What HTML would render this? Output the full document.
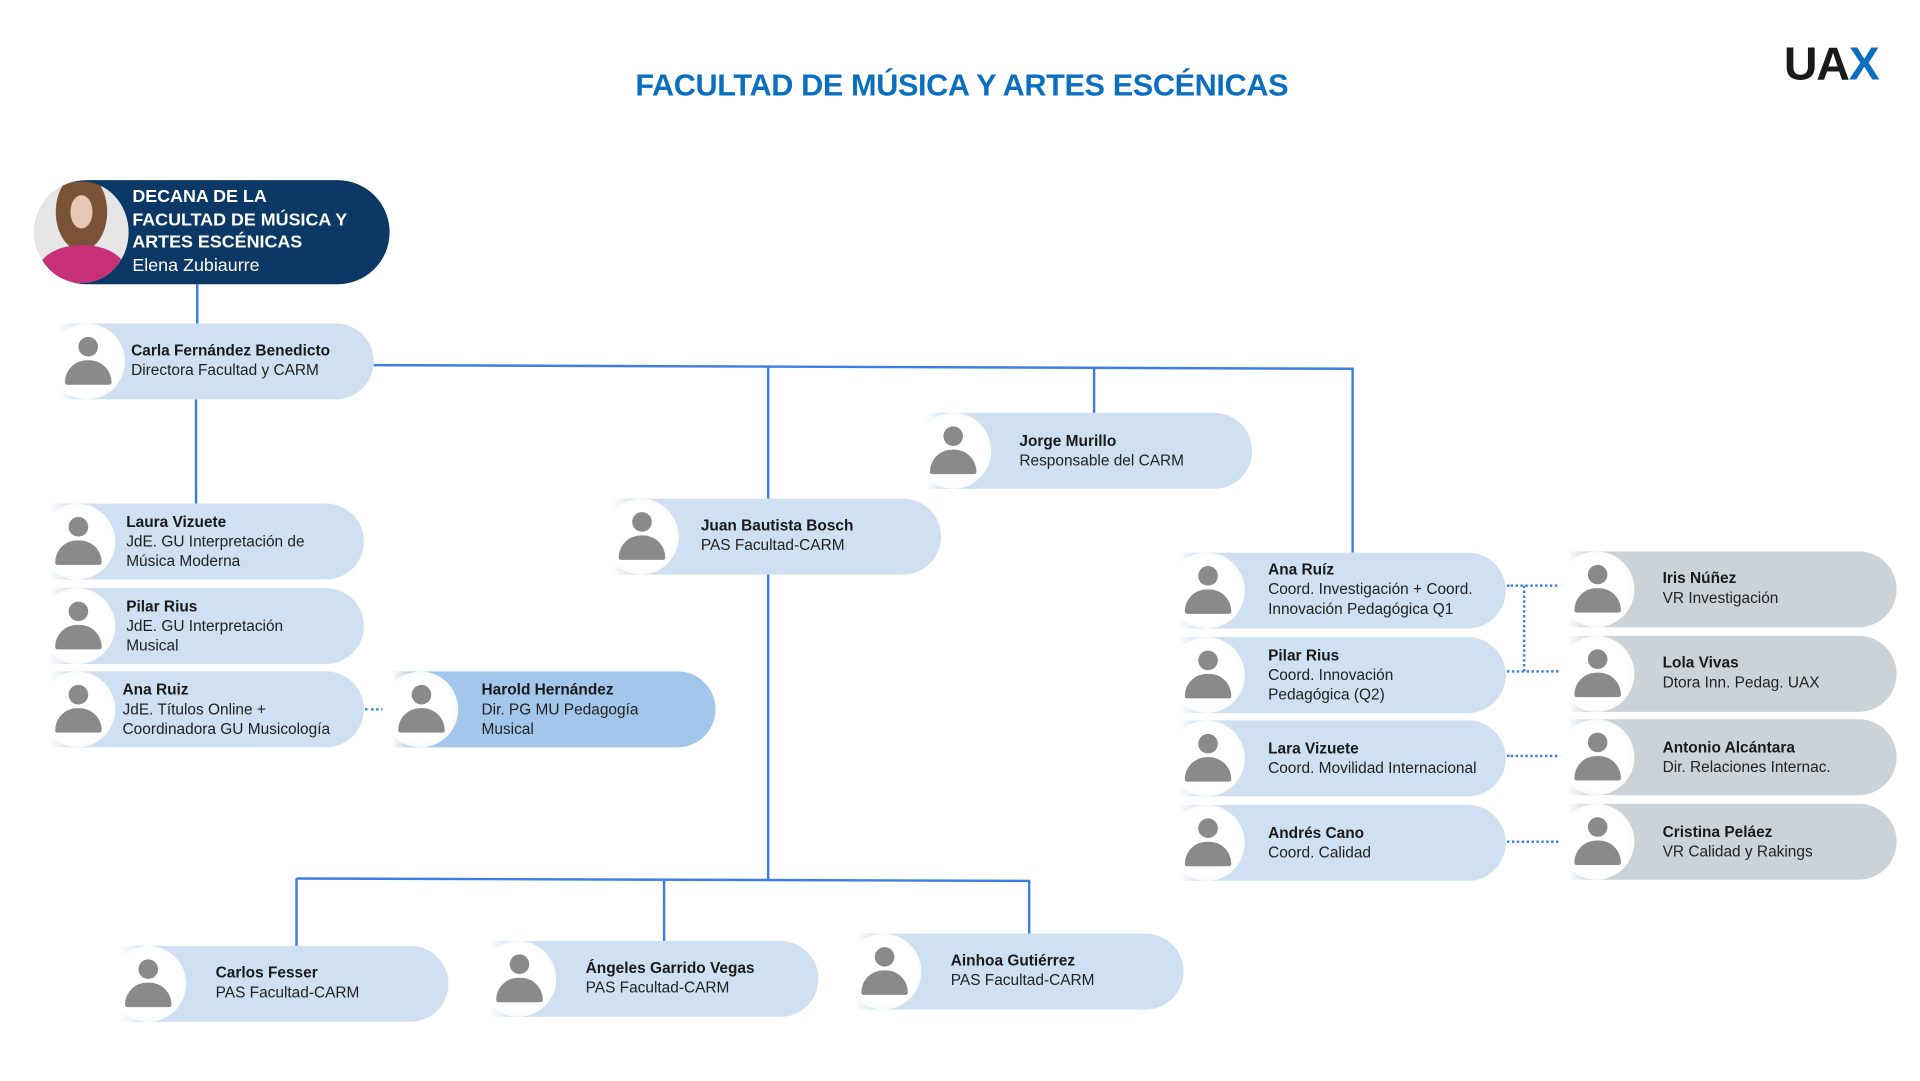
<!DOCTYPE html>
<html><head><meta charset="utf-8">
<style>
html,body{margin:0;padding:0;width:1920px;height:1080px;overflow:hidden;background:#fff;}
#c{position:absolute;left:0;top:0;width:1570px;height:882px;transform:scale(1.2252);transform-origin:0 0;font-family:"Liberation Sans",sans-serif;}
.p{position:absolute;border-radius:0 32px 32px 0;background:linear-gradient(90deg,rgba(207,224,242,0) 0,#cfe0f2 18px);}
.p.g{background:linear-gradient(90deg,rgba(203,211,217,0) 0,#cbd3d9 18px);}
.p.d{background:linear-gradient(90deg,rgba(163,199,234,0) 0,#a3c7ea 18px);}
.p .w{position:absolute;left:0;top:0;border-radius:50%;background:radial-gradient(circle,#fff 60%,rgba(255,255,255,0.6) 100%);}
.p .ic{position:absolute;width:40px;height:40px;}
.p .ic:before{content:"";position:absolute;left:12px;top:0;width:16px;height:16px;border-radius:50%;background:#8a8a8a;}
.p .ic:after{content:"";position:absolute;left:1px;top:19px;width:38px;height:20px;border-radius:19px 19px 2px 2px;background:#8a8a8a;}
.p .t{position:absolute;font-size:12.6px;line-height:16px;color:#222;}
.p .t b{font-weight:bold;color:#1a1a1a;}
.ln{position:absolute;background:#3d7fe0;}
.dt{position:absolute;border-top:2px dotted #3d7fe0;height:0;}
.dv{position:absolute;border-left:2px dotted #3d7fe0;width:0;}
</style></head><body><div id="c">
<div style="position:absolute;left:0;width:1570px;top:56px;text-align:center;font-size:25px;font-weight:bold;color:#0b6fc0;letter-spacing:-0.3px">FACULTAD DE MÚSICA Y ARTES ESCÉNICAS</div>
<div style="position:absolute;left:1456px;top:32px;font-size:38px;font-weight:bold;color:#1a1a1a;letter-spacing:-1px">UA<span style="color:#0b6fc0">X</span></div>

<div class="ln" style="left:160px;top:232px;width:2px;height:33px"></div>
<div class="ln" style="left:159px;top:326px;width:2px;height:85px"></div>
<svg style="position:absolute;left:0;top:0" width="1570" height="882"><line x1="305" y1="298" x2="1105" y2="301" stroke="#3d7fe0" stroke-width="2"/><line x1="242" y1="717" x2="841" y2="719" stroke="#3d7fe0" stroke-width="2"/></svg>
<div class="ln" style="left:626px;top:299px;width:2px;height:108px"></div>
<div class="ln" style="left:892px;top:300px;width:2px;height:37px"></div>
<div class="ln" style="left:1103px;top:301px;width:2px;height:150px"></div>
<div class="ln" style="left:626px;top:468px;width:2px;height:250px"></div>
<div class="ln" style="left:241px;top:717px;width:2px;height:55px"></div>
<div class="ln" style="left:541px;top:718px;width:2px;height:50px"></div>
<div class="ln" style="left:839px;top:719px;width:2px;height:43px"></div>
<div class="dt" style="left:298px;top:578px;width:27px"></div>
<div class="dt" style="left:1230px;top:477px;width:56px"></div>
<div class="dv" style="left:1243px;top:478px;height:70px"></div>
<div class="dt" style="left:1230px;top:547px;width:50px"></div>
<div class="dt" style="left:1230px;top:616px;width:56px"></div>
<div class="dt" style="left:1230px;top:686px;width:50px"></div>

<div style="position:absolute;left:28px;top:147px;width:290px;height:85px;border-radius:43px;background:#0b3864"></div>
<div style="position:absolute;left:28px;top:148px;width:77px;height:83px;border-radius:50%;background:radial-gradient(ellipse at 50% 30%,#e8c8b5 0 16%,#7a5236 17% 38%,#e6e6e6 39%);overflow:hidden"><div style="position:absolute;left:4px;top:52px;width:70px;height:40px;border-radius:50%;background:#c8307a"></div></div>
<div style="position:absolute;left:108px;top:152px;color:#fff;font-size:14.6px;line-height:18.5px"><b>DECANA DE LA<br>FACULTAD DE MÚSICA Y<br>ARTES ESCÉNICAS</b><br>Elena Zubiaurre</div>

<div class="p" style="left:48px;top:264px;width:257px;height:62px"><div class="w" style="width:62px;height:62px;left:-8px"></div><div class="ic" style="left:4px;top:11px"></div><div class="t" style="left:59px;top:14px"><b>Carla Fernández Benedicto</b><br>Directora Facultad y CARM</div></div>

<div class="p" style="left:755px;top:337px;width:267px;height:62px"><div class="w" style="width:62px;height:62px;left:-8px"></div><div class="ic" style="left:3px;top:11px"></div><div class="t" style="left:77px;top:15px"><b>Jorge Murillo</b><br>Responsable del CARM</div></div>

<div class="p" style="left:500px;top:407px;width:268px;height:62px"><div class="w" style="width:62px;height:62px;left:-8px"></div><div class="ic" style="left:4px;top:11px"></div><div class="t" style="left:72px;top:14px"><b>Juan Bautista Bosch</b><br>PAS Facultad-CARM</div></div>

<div class="p" style="left:40px;top:411px;width:257px;height:62px"><div class="w" style="width:62px;height:62px;left:-8px"></div><div class="ic" style="left:4px;top:11px"></div><div class="t" style="left:63px;top:7px"><b>Laura Vizuete</b><br>JdE. GU Interpretación de<br>Música Moderna</div></div>
<div class="p" style="left:40px;top:480px;width:257px;height:62px"><div class="w" style="width:62px;height:62px;left:-8px"></div><div class="ic" style="left:4px;top:11px"></div><div class="t" style="left:63px;top:7px"><b>Pilar Rius</b><br>JdE. GU Interpretación<br>Musical</div></div>
<div class="p" style="left:40px;top:548px;width:257px;height:62px"><div class="w" style="width:62px;height:62px;left:-8px"></div><div class="ic" style="left:4px;top:11px"></div><div class="t" style="left:60px;top:7px"><b>Ana Ruiz</b><br>JdE. Títulos Online +<br>Coordinadora GU Musicología</div></div>
<div class="p d" style="left:320px;top:548px;width:264px;height:62px"><div class="w" style="width:62px;height:62px;left:-8px"></div><div class="ic" style="left:4px;top:11px"></div><div class="t" style="left:73px;top:7px"><b>Harold Hernández</b><br>Dir. PG MU Pedagogía<br>Musical</div></div>

<div class="p" style="left:98px;top:772px;width:268px;height:62px"><div class="w" style="width:62px;height:62px;left:-8px"></div><div class="ic" style="left:3px;top:11px"></div><div class="t" style="left:78px;top:14px"><b>Carlos Fesser</b><br>PAS Facultad-CARM</div></div>
<div class="p" style="left:400px;top:768px;width:268px;height:62px"><div class="w" style="width:62px;height:62px;left:-8px"></div><div class="ic" style="left:4px;top:11px"></div><div class="t" style="left:78px;top:14px"><b>Ángeles Garrido Vegas</b><br>PAS Facultad-CARM</div></div>
<div class="p" style="left:698px;top:762px;width:268px;height:62px"><div class="w" style="width:62px;height:62px;left:-8px"></div><div class="ic" style="left:4px;top:11px"></div><div class="t" style="left:78px;top:14px"><b>Ainhoa Gutiérrez</b><br>PAS Facultad-CARM</div></div>

<div class="p" style="left:962px;top:451px;width:267px;height:62px"><div class="w" style="width:62px;height:62px;left:-8px"></div><div class="ic" style="left:4px;top:11px"></div><div class="t" style="left:73px;top:6px"><b>Ana Ruíz</b><br>Coord. Investigación + Coord.<br>Innovación Pedagógica Q1</div></div>
<div class="p" style="left:962px;top:520px;width:267px;height:62px"><div class="w" style="width:62px;height:62px;left:-8px"></div><div class="ic" style="left:4px;top:11px"></div><div class="t" style="left:73px;top:7px"><b>Pilar Rius</b><br>Coord. Innovación<br>Pedagógica (Q2)</div></div>
<div class="p" style="left:962px;top:588px;width:267px;height:62px"><div class="w" style="width:62px;height:62px;left:-8px"></div><div class="ic" style="left:4px;top:11px"></div><div class="t" style="left:73px;top:15px"><b>Lara Vizuete</b><br>Coord. Movilidad Internacional</div></div>
<div class="p" style="left:962px;top:657px;width:267px;height:62px"><div class="w" style="width:62px;height:62px;left:-8px"></div><div class="ic" style="left:4px;top:11px"></div><div class="t" style="left:73px;top:15px"><b>Andrés Cano</b><br>Coord. Calidad</div></div>

<div class="p g" style="left:1280px;top:450px;width:268px;height:62px"><div class="w" style="width:62px;height:62px;left:-8px"></div><div class="ic" style="left:4px;top:11px"></div><div class="t" style="left:77px;top:14px"><b>Iris Núñez</b><br>VR Investigación</div></div>
<div class="p g" style="left:1280px;top:519px;width:268px;height:62px"><div class="w" style="width:62px;height:62px;left:-8px"></div><div class="ic" style="left:4px;top:11px"></div><div class="t" style="left:77px;top:14px"><b>Lola Vivas</b><br>Dtora Inn. Pedag. UAX</div></div>
<div class="p g" style="left:1280px;top:587px;width:268px;height:62px"><div class="w" style="width:62px;height:62px;left:-8px"></div><div class="ic" style="left:4px;top:11px"></div><div class="t" style="left:77px;top:15px"><b>Antonio Alcántara</b><br>Dir. Relaciones Internac.</div></div>
<div class="p g" style="left:1280px;top:656px;width:268px;height:62px"><div class="w" style="width:62px;height:62px;left:-8px"></div><div class="ic" style="left:4px;top:11px"></div><div class="t" style="left:77px;top:15px"><b>Cristina Peláez</b><br>VR Calidad y Rakings</div></div>
</div></body></html>
